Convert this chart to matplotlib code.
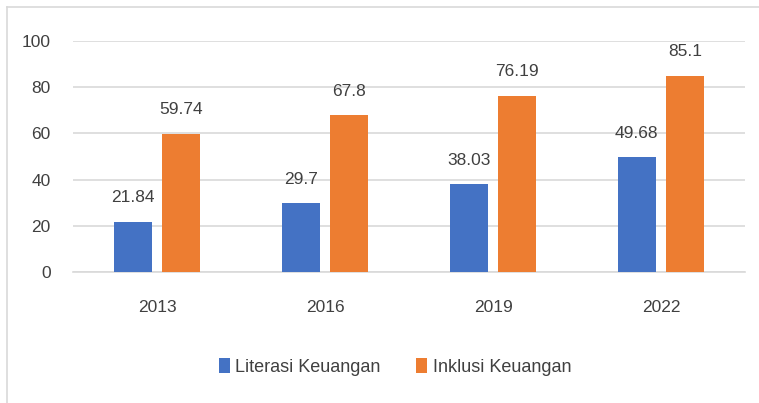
import numpy as np
import matplotlib.pyplot as plt
from matplotlib.lines import Line2D

plt.rcParams['font.family'] = ['Liberation Sans', 'DejaVu Sans']

years = ["2013", "2016", "2019", "2022"]
literasi = [21.84, 29.7, 38.03, 49.68]
inklusi = [59.74, 67.8, 76.19, 85.1]
literasi_labels = ["21.84", "29.7", "38.03", "49.68"]
inklusi_labels = ["59.74", "67.8", "76.19", "85.1"]

blue = "#4472C4"
orange = "#ED7D31"
txt = "#404040"
grid = "#d9d9d9"

fig = plt.figure(figsize=(7.59, 4.03), dpi=100)
ax = fig.add_axes([0.0962, 0.325, 0.8854, 0.573])

x = np.arange(len(years))
w = 0.225
off = 0.145
b1 = ax.bar(x - off, literasi, w, color=blue, label="Literasi Keuangan", zorder=3)
b2 = ax.bar(x + off, inklusi, w, color=orange, label="Inklusi Keuangan", zorder=3)

for bars, labs in [(b1, literasi_labels), (b2, inklusi_labels)]:
    for r, lab in zip(bars, labs):
        ax.annotate(lab, (r.get_x() + r.get_width() / 2, r.get_height()),
                    xytext=(0, 12), textcoords="offset points",
                    ha="center", va="bottom", fontsize=12.5, color=txt)

ax.set_xlim(-0.5, len(years) - 0.5)
ax.set_ylim(0, 100)
ax.set_yticks([0, 20, 40, 60, 80, 100])
ax.set_xticks(x)
ax.set_xticklabels(years)
ax.yaxis.grid(True, color=grid, linewidth=1.2, zorder=0)
ax.set_axisbelow(True)
for s in ["top", "right", "left"]:
    ax.spines[s].set_visible(False)
ax.spines["bottom"].set_color(grid)
ax.spines["bottom"].set_linewidth(1.2)
ax.tick_params(axis="both", length=0, labelsize=12.5, colors=txt)
ax.tick_params(axis="x", pad=20)
ax.tick_params(axis="y", pad=16)

leg = ax.legend(loc="center", bbox_to_anchor=(0.479, -0.41), ncol=2, frameon=False,
                fontsize=13, handlelength=0.6, handleheight=0.9, handletextpad=0.3,
                columnspacing=2.0)
for t in leg.get_texts():
    t.set_color(txt)

# outer frame (left and top edges visible)
fig.add_artist(Line2D([0.0092, 0.0092], [0.0, 0.9826], transform=fig.transFigure,
                      color=grid, linewidth=1.2))
fig.add_artist(Line2D([0.0092, 1.0], [0.9826, 0.9826], transform=fig.transFigure,
                      color=grid, linewidth=1.2))

fig.savefig("out.png", dpi=100)
